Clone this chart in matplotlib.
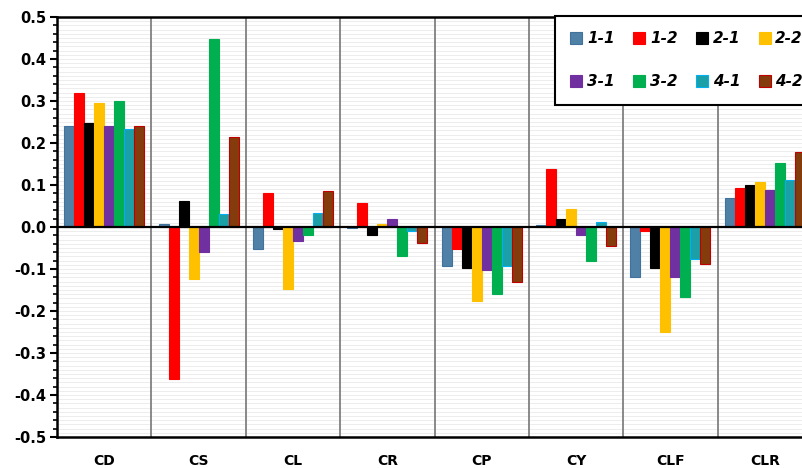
import numpy as np
import matplotlib.pyplot as plt
from matplotlib.ticker import MultipleLocator

coeffs = ["CD", "CS", "CL", "CR", "CP", "CY", "CLF", "CLR"]
cases = ["1-1", "1-2", "2-1", "2-2", "3-1", "3-2", "4-1", "4-2"]

# one list per case, values in the order of coeffs
v11 = [0.240, 0.008, -0.053, -0.003, -0.093, 0.005, -0.120, 0.068]
v12 = [0.319, -0.363, 0.081, 0.058, -0.052, 0.138, -0.010, 0.093]
v21 = [0.248, 0.063, -0.005, -0.020, -0.098, 0.019, -0.098, 0.099]
v22 = [0.296, -0.123, -0.148, 0.007, -0.176, 0.043, -0.250, 0.107]
v31 = [0.240, -0.060, -0.033, 0.018, -0.102, -0.018, -0.120, 0.088]
v32 = [0.300, 0.448, -0.018, -0.068, -0.159, -0.080, -0.167, 0.152]
v41 = [0.233, 0.030, 0.034, -0.010, -0.093, 0.012, -0.075, 0.112]
v42 = [0.240, 0.215, 0.085, -0.037, -0.132, -0.045, -0.089, 0.178]
series = [v11, v12, v21, v22, v31, v32, v41, v42]

fills = ["#4f81a7", "#ff0000", "#000000", "#ffc000",
         "#7030a0", "#00b050", "#1ca0a8", "#843c0c"]
edges = ["#41719c", "#ff0000", "#000000", "#ffc000",
         "#7030a0", "#00b050", "#00b0f0", "#c00000"]

fig = plt.figure(figsize=(8.02, 4.68), dpi=100)
ax = fig.add_axes([57/802, 1 - 437/468, 755/802, 420/468])

x = np.arange(len(coeffs))
w = 0.106
bars = []
for k, vals in enumerate(series):
    b = ax.bar(x + (k - 3.5) * w, vals, width=w, color=fills[k],
               edgecolor=edges[k], linewidth=0.8, label=cases[k], zorder=3)
    bars.append(b)

ax.set_xlim(-0.5, len(coeffs) - 0.5)
ax.set_ylim(-0.5, 0.5)

# faint horizontal grid, group separators and zero line
for yy in np.arange(-0.5, 0.5001, 0.01):
    ax.axhline(yy, color="#ededed", lw=0.7, zorder=0)
for i in range(1, len(coeffs)):
    ax.axvline(i - 0.5, color="#808080", lw=1.3, zorder=1)
ax.axhline(0, color="black", lw=1.6, zorder=4)

ax.yaxis.set_major_locator(MultipleLocator(0.1))
ax.yaxis.set_minor_locator(MultipleLocator(0.02))
ax.set_yticklabels([f"{t:.1f}" for t in ax.get_yticks()])
ax.tick_params(axis="y", which="major", direction="out", length=5, width=1.5,
               labelsize=10.5, pad=3)
ax.tick_params(axis="y", which="minor", direction="out", length=3, width=1.2)
for lab in ax.get_yticklabels():
    lab.set_fontweight("bold")

ax.set_xticks(x)
ax.set_xticklabels(coeffs, fontsize=10, fontweight="bold")
ax.tick_params(axis="x", length=0, pad=12)

for s in ["left", "bottom", "top"]:
    ax.spines[s].set_linewidth(1.8)
ax.spines["right"].set_visible(False)

# legend filled row by row: 1-1 1-2 2-1 2-2 / 3-1 3-2 4-1 4-2
order = [0, 4, 1, 5, 2, 6, 3, 7]
leg = ax.legend([bars[i] for i in order], [cases[i] for i in order],
                loc="upper left", bbox_to_anchor=(0.6596, 1.003), ncol=4,
                borderaxespad=0,
                prop={"weight": "bold", "style": "italic", "size": 11},
                handlelength=0.8, handleheight=0.8, handletextpad=0.3,
                columnspacing=1.2, labelspacing=1.85, borderpad=1.0,
                frameon=True, fancybox=False, framealpha=1)
leg.get_frame().set_edgecolor("black")
leg.get_frame().set_linewidth(1.5)
leg.set_zorder(10)

fig.savefig("out.png", dpi=100)
